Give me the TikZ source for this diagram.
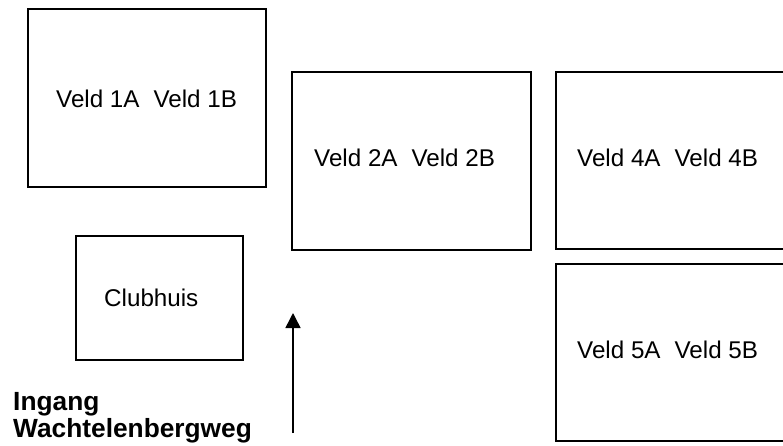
\documentclass[tikz,border=0pt]{standalone}
\usepackage{fontspec}
\setmainfont{Liberation Sans}
\usetikzlibrary{arrows.meta}
\newcommand{\fgap}{\hspace{14pt}}
\begin{document}
\begin{tikzpicture}[x=1pt,y=-1pt,
  field/.style={draw=black,line width=1.6pt,fill=none,rectangle,inner sep=0pt},
  lbl/.style={anchor=base west,inner sep=0pt,font=\fontsize{24.2}{28}\selectfont},
  entry/.style={anchor=base west,inner sep=0pt,align=left,font=\fontsize{26.3}{27}\selectfont\bfseries}]
\useasboundingbox (0,0) rectangle (783,445);
\clip (0,0) rectangle (783,445);
\node[field,minimum width=238pt,minimum height=178pt] (v1) at (147,98) {};
\node[field,minimum width=239pt,minimum height=178pt] (v2) at (411.5,161) {};
\node[field,minimum width=250pt,minimum height=177pt] (v4) at (681,160.5) {};
\node[field,minimum width=250pt,minimum height=177pt] (v5) at (681,352.5) {};
\node[field,minimum width=167pt,minimum height=124pt] (club) at (159.5,298) {};
\node[lbl] (t1) at (56,107.5) {Veld 1A\fgap Veld 1B};
\node[lbl] (t2) at (314,166.5) {Veld 2A\fgap Veld 2B};
\node[lbl] (t4) at (577,166.5) {Veld 4A\fgap Veld 4B};
\node[lbl] (t5) at (577,358.5) {Veld 5A\fgap Veld 5B};
\node[lbl] (tc) at (104,306.5) {Clubhuis};
\node[entry] (ing) at (13,437) {Ingang\\Wachtelenbergweg};
\coordinate (arrowfoot) at (293,433);
\coordinate (arrowtip) at (293,313);
\draw[line width=1.5pt,-{Triangle[length=15pt,width=15pt]}] (arrowfoot) -- (arrowtip);
\end{tikzpicture}
\end{document}
